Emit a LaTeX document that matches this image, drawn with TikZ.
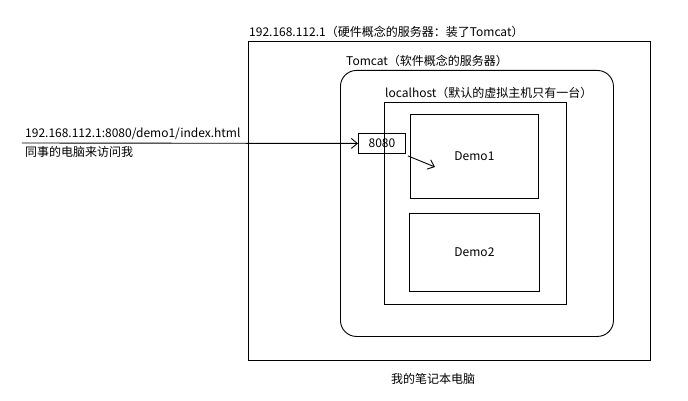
\documentclass[tikz,border=0pt]{standalone}
\usepackage{fontspec}
\newfontfamily\cjk{Noto Sans CJK SC}
\usetikzlibrary{positioning,arrows.meta}

\begin{document}
\begin{tikzpicture}[x=1pt,y=-1pt,
    every node/.style={font=\cjk\fontsize{12}{14}\selectfont, inner sep=0pt},
    box/.style={draw, line width=0.9pt, anchor=north west},
    link/.style={draw, line width=0.9pt, -{Straight Barb[length=6pt,width=10pt]}}]
    \useasboundingbox (0,0) rectangle (688,401);

    % Laptop (hardware server)
    \node[box, minimum width=402pt, minimum height=319pt] (laptop) at (248,41) {};
    \node[above right=3pt and 1pt of laptop.north west] (laptoplabel) {192.168.112.1（硬件概念的服务器：装了Tomcat）};
    \node (laptopname) at (433,379) {我的笔记本电脑};

    % Tomcat (software server)
    \node[box, rounded corners=16pt, minimum width=273pt, minimum height=266pt] (tomcat) at (340,70) {};
    \node[above right=3pt and 6pt of tomcat.north west] (tomcatlabel) {Tomcat（软件概念的服务器）};

    % Virtual host
    \node[box, minimum width=182pt, minimum height=202pt] (host) at (384,102) {};
    \node[above right=3pt and 1pt of host.north west] (hostlabel) {localhost（默认的虚拟主机只有一台）};

    % Web apps
    \node[box, minimum width=128pt, minimum height=84pt] (demoone) at (410,114) {};
    \node at (demoone.center) (demoonelabel) {Demo1};
    \node[box, minimum width=130pt, minimum height=78pt] (demotwo) at (409,213) {};
    \node at (demotwo.center) (demotwolabel) {Demo2};

    % Port
    \node[box, minimum width=47pt, minimum height=20pt] (port) at (358,133) {8080};

    % Request from a colleague
    \coordinate (visitor) at (22,143);
    \draw[link] (visitor) -- (port.west);
    \node[above right=3pt and 3pt of visitor] (url) {192.168.112.1:8080/demo1/index.html};
    \node[below right=3pt and 3pt of visitor] (visitorlabel) {同事的电脑来访问我};

    % Forward to Demo1
    \coordinate (hit) at (435,167);
    \draw[link] ([shift={(2,2)}]port.south east) -- (hit);
\end{tikzpicture}
\end{document}
